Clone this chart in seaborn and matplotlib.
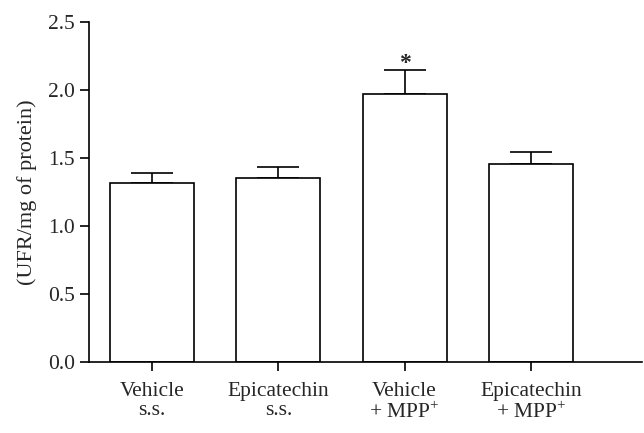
import numpy as np
import matplotlib
matplotlib.use('Agg')
import matplotlib.pyplot as plt
import seaborn as sns
import pandas as pd

# Values
grupos = ['Vehicle\ns.s.', 'Epicatechin\ns.s.', 'Vehicle\n+ MPP$^{+}$', 'Epicatechin\n+ MPP$^{+}$']
media = [1.318, 1.349, 1.969, 1.455]
erro = [0.071, 0.081, 0.176, 0.087]
marca = ['', '', '*', '']

df = pd.DataFrame({'grupo': grupos, 'media': media, 'erro': erro})

sns.set_style('ticks')
plt.rcParams['font.family'] = ['Liberation Serif', 'DejaVu Serif']
plt.rcParams['mathtext.fontset'] = 'custom'
plt.rcParams['mathtext.rm'] = 'Liberation Serif'

fig = plt.figure(figsize=(6.44, 4.33), dpi=100)
ax = fig.add_axes([0.138, 0.164, 0.859, 0.786])

sns.barplot(data=df, x='grupo', y='media', color='white', edgecolor='black',
            linewidth=1.2, width=0.665, saturation=1, ax=ax, zorder=2)

pos = np.arange(len(grupos))
ax.errorbar(pos, df['media'], yerr=[np.zeros(len(erro)), df['erro']], fmt='none',
            ecolor='black', elinewidth=1.2, capsize=15, capthick=1.2, zorder=1)

# asterisco de significancia
for i, m in enumerate(marca):
    if m:
        ax.text(pos[i], media[i] + erro[i] + 0.045, m, ha='center', va='center',
                fontsize=17, fontweight='bold')

ax.set_ylim(0, 2.5)
ax.set_xlim(-0.5, 3.88)
ax.set_yticks([0.0, 0.5, 1.0, 1.5, 2.0, 2.5])
ax.set_yticklabels(['0.0', '0.5', '1.0', '1.5', '2.0', '2.5'])
ax.set_xlabel('')
ax.set_ylabel('(UFR/mg of protein)', fontsize=16, labelpad=8)
ax.tick_params(axis='both', labelsize=15.5, width=1.2, length=6.5, color='black')
ax.tick_params(axis='x', pad=8)
for t in ax.get_xticklabels():
    t.set_linespacing(1.0)
sns.despine(ax=ax)
for s in ['left', 'bottom']:
    ax.spines[s].set_linewidth(1.2)
    ax.spines[s].set_color('black')

fig.savefig('out.png', dpi=100)
